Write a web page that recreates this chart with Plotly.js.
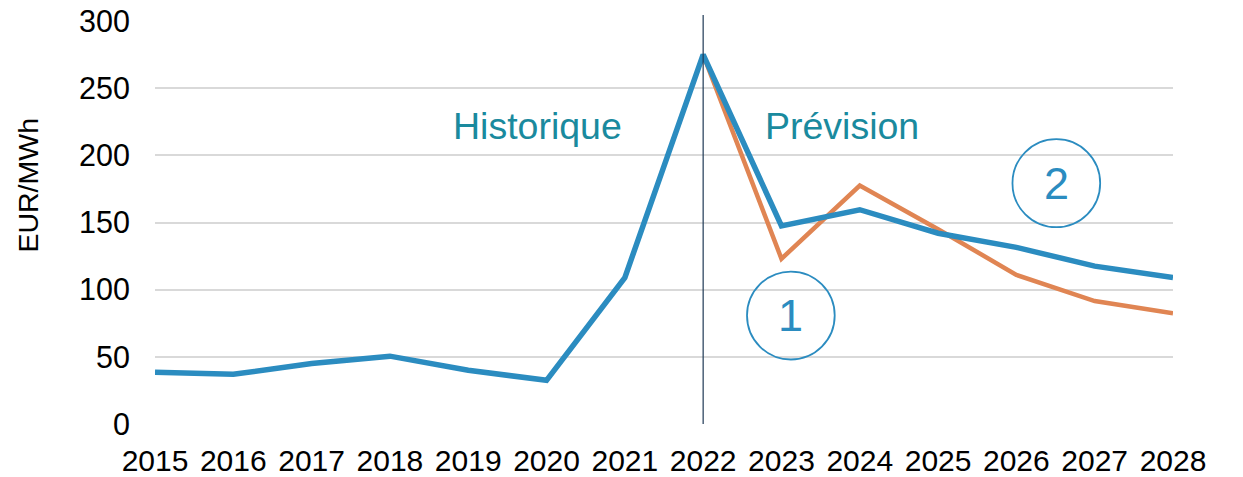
<!DOCTYPE html>
<html>
<head>
<meta charset="utf-8">
<script src="https://cdn.plot.ly/plotly-3.0.1.min.js"></script>
<style>html,body{margin:0;padding:0;background:#fff;}#chart{width:1243px;height:477px;}</style>
</head>
<body>
<div id="chart"></div>
<script>
const years = [2015,2016,2017,2018,2019,2020,2021,2022,2023,2024,2025,2026,2027,2028];
const scenario2 = [38.5,37,45,50.5,40,32.5,109,275,147.5,159.5,142,131.5,117.5,109];
const forecastYears = [2022,2023,2024,2025,2026,2027,2028];
const scenario1 = [275,123,177.5,145,111,91.5,82.5];
const yTicks = [0,50,100,150,200,250,300];

const FONT = 'Liberation Sans, Arial, sans-serif';
const traces = [
  {x: forecastYears, y: scenario1, mode: 'lines', line: {color: '#E08553', width: 4.5}, hoverinfo: 'skip'},
  {x: years, y: scenario2, mode: 'lines', line: {color: '#2B8CC0', width: 5.5}, hoverinfo: 'skip'}
];
const layout = {
  width: 1243, height: 477,
  margin: {l: 155, r: 70, t: 21, b: 52.5},
  paper_bgcolor: '#fff', plot_bgcolor: '#fff',
  showlegend: false,
  font: {family: FONT, color: '#000'},
  xaxis: {range: [2015, 2028], tickvals: years, ticktext: years.map(String), showgrid: false,
          zeroline: false, showline: false, ticks: '', tickfont: {size: 30, color: '#000'},
          ticklabelstandoff: 16, fixedrange: true},
  yaxis: {range: [0, 300], tickvals: yTicks, showgrid: true, gridcolor: '#D9D9D9', gridwidth: 2,
          zeroline: false, showline: false, ticks: '', tickfont: {size: 30.5, color: '#000'},
          ticklabelstandoff: 24, fixedrange: true},
  shapes: [
    {type: 'line', xref: 'x', yref: 'paper', x0: 2022, x1: 2022, y0: 0, y1: 1.015, line: {color: '#1F3A56', width: 1.2}},
    {type: 'circle', xref: 'x', yref: 'y', x0: 2022.56, x1: 2023.68, y0: 48, y1: 113.5, line: {color: '#2B8CC0', width: 1.8}},
    {type: 'circle', xref: 'x', yref: 'y', x0: 2025.95, x1: 2027.07, y0: 146.5, y1: 212, line: {color: '#2B8CC0', width: 1.8}}
  ],
  annotations: [
    {text: 'Historique', xref: 'x', yref: 'y', x: 2019.88, y: 222, showarrow: false, xanchor: 'center', yanchor: 'middle', font: {size: 37.5, color: '#1A8A9E', family: FONT}},
    {text: 'Prévision', xref: 'x', yref: 'y', x: 2023.77, y: 222, showarrow: false, xanchor: 'center', yanchor: 'middle', font: {size: 37.5, color: '#1A8A9E', family: FONT}},
    {text: '1', xref: 'x', yref: 'y', x: 2023.12, y: 80.8, showarrow: false, xanchor: 'center', yanchor: 'middle', font: {size: 45, color: '#2B8CC0', family: FONT}},
    {text: '2', xref: 'x', yref: 'y', x: 2026.51, y: 179.3, showarrow: false, xanchor: 'center', yanchor: 'middle', font: {size: 45, color: '#2B8CC0', family: FONT}},
    {text: 'EUR/MWh', xref: 'paper', yref: 'paper', x: -0.1248, y: 0.594, textangle: -90, showarrow: false, xanchor: 'center', yanchor: 'middle', font: {size: 28.5, color: '#000', family: FONT}}
  ]
};
Plotly.newPlot('chart', traces, layout, {staticPlot: true, displayModeBar: false});
</script>
</body>
</html>
